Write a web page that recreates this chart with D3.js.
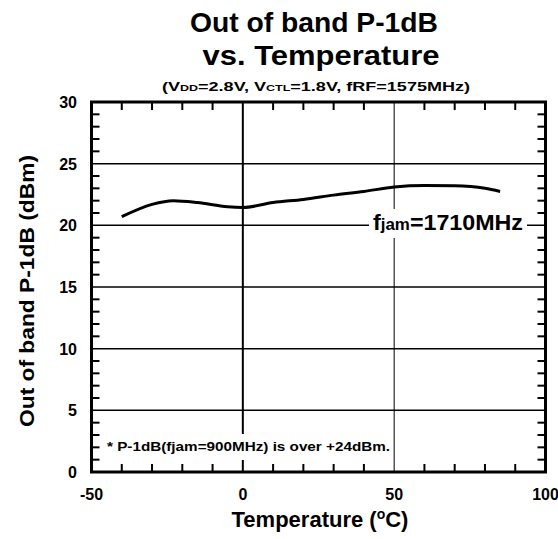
<!DOCTYPE html>
<html>
<head>
<meta charset="utf-8">
<script src="https://cdn.jsdelivr.net/npm/d3@7"></script>
<style>
  body { margin: 0; background: #fff; }
  svg { display: block; font-family: "Liberation Sans", Arial, sans-serif; font-weight: bold; }
</style>
</head>
<body>
<svg width="558" height="539"></svg>
<script>
// data
var temps  = [-40, -30, -23, -15, -5, 0, 10, 20, 30, 40, 50, 60, 70, 80, 85];
var p1db   = [20.7, 21.7, 22.0, 21.85, 21.5, 21.45, 21.85, 22.1, 22.45, 22.75, 23.1, 23.22, 23.2, 23.0, 22.75];
var xTicks = [-50, 0, 50, 100];
var yTicks = [0, 5, 10, 15, 20, 25, 30];

var svg = d3.select("svg");

// plot box
var x = d3.scaleLinear().domain([-50, 100]).range([91.5, 545.5]);
var y = d3.scaleLinear().domain([0, 30]).range([472, 102]);

var g = svg.append("g");

// grid lines
g.selectAll("line.hgrid")
    .data([5, 10, 15, 20, 25])
  .enter().append("line")
    .attr("class", "hgrid")
    .attr("x1", x(-50)).attr("x2", x(100))
    .attr("y1", d => y(d)).attr("y2", d => y(d))
    .attr("stroke", "#000").attr("stroke-width", 1.5);

g.selectAll("line.vgrid")
    .data([0, 50])
  .enter().append("line")
    .attr("class", "vgrid")
    .attr("x1", d => x(d)).attr("x2", d => x(d))
    .attr("y1", y(0)).attr("y2", y(30))
    .attr("stroke", "#000").attr("stroke-width", d => d === 0 ? 2 : 1);

// curve
var curve = d3.line()
    .x((d, i) => x(temps[i]))
    .y(d => y(d))
    .curve(d3.curveMonotoneX);
g.append("path")
    .datum(p1db)
    .attr("d", curve)
    .attr("fill", "none")
    .attr("stroke", "#000")
    .attr("stroke-width", 3);

// fjam label with white background
var lab = g.append("g");
lab.append("rect")
    .attr("x", 369).attr("y", 209).attr("width", 158).attr("height", 29)
    .attr("fill", "#fff");
var fj = lab.append("text")
    .attr("x", 373).attr("y", 230)
    .attr("font-size", 22)
    .attr("textLength", 150)
    .attr("lengthAdjust", "spacingAndGlyphs");
fj.append("tspan").text("f");
fj.append("tspan").attr("font-size", 16).text("jam");
fj.append("tspan").text("=1710MHz");

// footnote box
var note = g.append("g");
note.append("rect")
    .attr("x", 101).attr("y", 434).attr("width", 291).attr("height", 26)
    .attr("fill", "#fff");
note.append("text")
    .attr("x", 107).attr("y", 451)
    .attr("font-size", 13)
    .attr("textLength", 283)
    .attr("lengthAdjust", "spacingAndGlyphs")
    .text("* P-1dB(fjam=900MHz) is over +24dBm.");

// frame
g.append("rect")
    .attr("x", x(-50)).attr("y", y(30))
    .attr("width", x(100) - x(-50)).attr("height", y(0) - y(30))
    .attr("fill", "none").attr("stroke", "#000").attr("stroke-width", 3);

// minor ticks, small filled bars pointing inward from each side of the frame
var xMinor = d3.range(-40, 100, 10).filter(d => d !== 0 && d !== 50);
var yMinor = d3.range(1, 30, 1).filter(d => d % 5 !== 0);
var tickLen = 8;

var ticks = svg.append("g").attr("class", "minor-ticks").attr("fill", "#000");
ticks.selectAll("rect.xb")
    .data(xMinor)
  .enter().append("rect")
    .attr("class", "xb")
    .attr("x", d => x(d) - 1).attr("y", y(0) - tickLen)
    .attr("width", 2).attr("height", tickLen);
ticks.selectAll("rect.xtop")
    .data(xMinor)
  .enter().append("rect")
    .attr("class", "xtop")
    .attr("x", d => x(d) - 1).attr("y", y(30))
    .attr("width", 2).attr("height", tickLen);
ticks.selectAll("rect.yl")
    .data(yMinor)
  .enter().append("rect")
    .attr("class", "yl")
    .attr("x", x(-50)).attr("y", d => y(d) - 1)
    .attr("width", tickLen).attr("height", 2);
ticks.selectAll("rect.yr")
    .data(yMinor)
  .enter().append("rect")
    .attr("class", "yr")
    .attr("x", x(100) - tickLen).attr("y", d => y(d) - 1)
    .attr("width", tickLen).attr("height", 2);

// tick labels
svg.selectAll("text.ylab")
    .data(yTicks)
  .enter().append("text")
    .attr("class", "ylab")
    .attr("x", 77).attr("y", d => y(d) + 6)
    .attr("text-anchor", "end")
    .attr("font-size", 16)
    .text(d => d);

svg.selectAll("text.xlab")
    .data(xTicks)
  .enter().append("text")
    .attr("class", "xlab")
    .attr("x", d => x(d)).attr("y", 500)
    .attr("text-anchor", "middle")
    .attr("font-size", 16)
    .text(d => d);

// axis titles
var xt = svg.append("text")
    .attr("x", 320).attr("y", 527)
    .attr("text-anchor", "middle")
    .attr("font-size", 22);
xt.append("tspan").text("Temperature (");
xt.append("tspan").attr("font-size", 14).attr("dy", -8).text("o");
xt.append("tspan").attr("dy", 8).text("C)");

svg.append("text")
    .attr("transform", "translate(34,291) rotate(-90)")
    .attr("text-anchor", "middle")
    .attr("font-size", 21)
    .attr("textLength", 272)
    .attr("lengthAdjust", "spacingAndGlyphs")
    .text("Out of band P-1dB (dBm)");

// titles
svg.append("text")
    .attr("x", 314).attr("y", 32)
    .attr("text-anchor", "middle")
    .attr("font-size", 27)
    .attr("textLength", 248)
    .attr("lengthAdjust", "spacingAndGlyphs")
    .text("Out of band P-1dB");
svg.append("text")
    .attr("x", 321).attr("y", 65)
    .attr("text-anchor", "middle")
    .attr("font-size", 27)
    .attr("textLength", 237)
    .attr("lengthAdjust", "spacingAndGlyphs")
    .text("vs. Temperature");

var st = svg.append("text")
    .attr("x", 316).attr("y", 91)
    .attr("text-anchor", "middle")
    .attr("font-size", 13)
    .attr("textLength", 308)
    .attr("lengthAdjust", "spacingAndGlyphs");
st.append("tspan").text("(V");
st.append("tspan").attr("font-size", 9).text("DD");
st.append("tspan").text("=2.8V, V");
st.append("tspan").attr("font-size", 9).text("CTL");
st.append("tspan").text("=1.8V, fRF=1575MHz)");
</script>
</body>
</html>
